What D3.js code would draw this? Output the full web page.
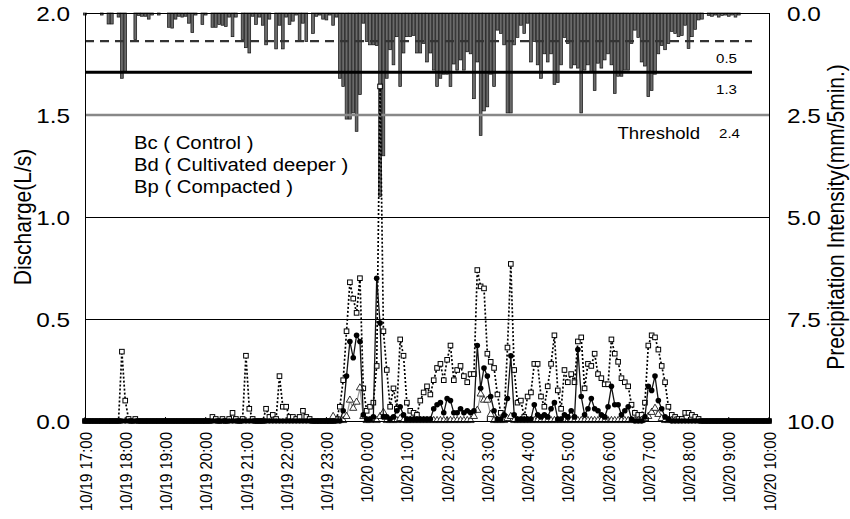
<!DOCTYPE html>
<html><head><meta charset="utf-8">
<script src="https://cdn.jsdelivr.net/npm/d3@7"></script>
<style>
body{margin:0;background:#fff}
text{font-family:"Liberation Sans",Arial,Helvetica,sans-serif;fill:#000}
</style>
</head><body>
<svg id="chart" width="850" height="519"></svg>
<script>
// ---------- data (5-minute steps from 10/19 17:00 to 10/20 10:00) ----------
const timeLabels = ["10/19 17:00","10/19 18:00","10/19 19:00","10/19 20:00","10/19 21:00","10/19 22:00","10/19 23:00","10/20 0:00","10/20 1:00","10/20 2:00","10/20 3:00","10/20 4:00","10/20 5:00","10/20 6:00","10/20 7:00","10/20 8:00","10/20 9:00","10/20 10:00"];
const leftTicks = [0, 0.5, 1.0, 1.5, 2.0];
const rightTicks = [0, 2.5, 5.0, 7.5, 10.0];
const legendLabels = ["Bc ( Control )", "Bd ( Cultivated deeper )", "Bp ( Compacted )"];
const thresholdLabels = ["0.5", "1.3", "2.4"];
const thresholdLevels = [0.69, 1.45, 2.5]; // mm/5min on the right axis

// precipitation intensity (mm/5min)
const precip = [
0.05,0,0,0,0,0.05,0,0.27,0.27,0,0.10,1.60,
1.45,0,0,0.65,0.06,0.08,0.08,0.15,0.05,0,0.05,0,
0,0.35,0.37,0.15,0.08,0.10,0.08,0.25,0.48,0.05,0,0.28,
0.05,0,0.35,0.35,0.28,0.30,0.33,0.10,0.58,0.10,0,0.65,
0.85,0.98,0.08,0.28,0.10,0.30,0.78,0.15,0,0.88,0.30,0.88,
0.10,0.28,0.20,0.05,0.70,0.25,0.70,0,0.50,0.08,0.05,0.15,
0.17,0.05,0.30,0.10,1.60,1.80,2.60,2.60,2.45,2.90,2.00,0.25,
0.70,0.78,0.78,0.80,4.50,3.50,1.60,0.90,1.27,0.58,1.80,0.98,
0.58,0.58,0.55,0.98,0.98,0.75,1.20,0.98,1.40,1.80,1.60,1.50,
1.50,1.80,1.25,1.40,1.15,1.40,0.95,1.00,2.10,1.20,3.00,2.40,
2.30,1.50,1.80,0.42,0.50,0.78,2.45,2.45,0.78,0.60,0.30,0.50,
0.25,1.20,0.70,1.27,1.60,1.00,1.20,1.00,1.75,1.70,1.27,0.60,
0.75,1.35,1.27,1.35,2.45,1.40,1.27,1.45,1.90,1.23,1.35,1.15,
1.00,1.27,1.97,1.55,1.55,1.40,1.40,0.75,0.42,0.60,1.20,1.30,
2.05,1.90,1.50,1.00,0.80,0.90,0.75,0.45,0.50,0.58,0.55,0.30,
0.87,0.58,0.40,0.17,0.15,0,0.06,0.08,0.05,0.10,0.06,0.05,
0.08,0.05,0.10,0.05,0,0,0,0,0,0,0,0,
0];

// discharge (L/s) – squares, dotted line
const dischargeSquares = [
0,0,0,0,0,0,0,0,0,0,0,0.34,
0.10,0.01,0,0.01,0,0,0,0,0,0,0,0,
0,0,0,0,0,0,0,0,0,0,0,0,
0,0,0.02,0.01,0,0.01,0,0.01,0.04,0.01,0,0.01,
0.32,0.06,0.01,0,0,0,0.06,0.02,0.03,0.01,0.22,0.07,
0.07,0.02,0.02,0.01,0.02,0.05,0.02,0.01,0,0,0,0,
0,0,0,0.01,0.07,0.20,0.44,0.68,0.60,0.53,0.70,0.16,
0.05,0.07,0.09,0.27,1.64,0.44,0.25,0.07,0.16,0.06,0.40,0.32,
0.09,0.05,0.04,0.03,0.10,0.14,0.17,0.13,0.20,0.26,0.28,0.20,
0.30,0.37,0.20,0.25,0.27,0.22,0.19,0.23,0.23,0.74,0.66,0.65,
0.33,0.29,0.26,0.13,0.04,0.02,0.36,0.77,0.25,0.09,0.10,0.02,
0.12,0.14,0.28,0.28,0.12,0.07,0.17,0.28,0.42,0.15,0.06,0.25,
0.19,0.23,0.19,0.39,0.41,0.16,0.28,0.27,0.33,0.23,0.21,0.18,
0.18,0.40,0.33,0.29,0.21,0.19,0.17,0.08,0.04,0.03,0.03,0.09,
0.37,0.42,0.41,0.35,0.27,0.19,0.07,0.03,0.02,0.01,0.01,0.04,
0.04,0.03,0.02,0.01,0,0,0,0,0,0,0,0,
0,0,0,0,0,0,0,0,0,0,0,0,
0];

// discharge (L/s) – filled circles, solid line
const dischargeCircles = [
0,0,0,0,0,0,0,0,0,0,0,0,
0,0,0,0,0,0,0,0,0,0,0,0,
0,0,0,0,0,0,0,0,0,0,0,0,
0,0,0,0,0,0,0,0,0,0,0,0,
0,0,0,0,0,0,0,0,0,0,0,0,
0,0,0,0,0,0,0,0,0,0,0,0,
0,0,0,0,0,0.05,0.22,0.39,0.31,0.42,0.39,0.03,
0.01,0.01,0.02,0.70,0.48,0.02,0.02,0.01,0.02,0.05,0.07,0.03,
0.01,0.01,0.01,0.01,0.01,0.01,0.01,0.01,0.06,0.08,0.09,0.04,
0.11,0.10,0.04,0.04,0.06,0.04,0.05,0.04,0.05,0.37,0.16,0.26,
0.22,0.12,0.05,0.01,0.01,0.03,0.11,0.32,0.03,0.01,0.01,0.01,
0.01,0.01,0.08,0.03,0.02,0.03,0.02,0.06,0.09,0.01,0.01,0.03,
0.02,0.05,0.02,0.35,0.12,0.03,0.06,0.11,0.06,0.05,0.03,0.02,
0.07,0.17,0.08,0.08,0.03,0.05,0.07,0.01,0,0,0,0.02,
0.17,0.15,0.22,0.10,0.06,0.02,0.01,0,0,0,0,0,
0,0,0,0,0,0,0,0,0,0,0,0,
0,0,0,0,0,0,0,0,0,0,0,0,
0];

// discharge (L/s) – open triangles, grey line (recorded only during the storm)
const dischargeTriangles = [
null,null,null,null,null,null,null,null,null,null,null,null,
null,null,null,null,null,null,null,null,null,null,null,null,
null,null,null,null,null,null,null,null,null,null,null,null,
null,null,null,null,null,null,null,null,null,null,null,null,
null,null,null,null,null,null,null,null,null,null,null,null,
null,null,null,null,null,null,null,null,null,null,null,null,
null,null,0.02,0,0,0,0.02,0.10,0.06,0.09,0.16,0.02,
0,0,0.01,0,0.02,0.04,0,0,0,0,0.01,0,
0,0,0,0,0,0,0,0,0,0,0,0,
0,0,0,0,0,0,0,0,0.02,0.05,0.13,0.10,
0.10,0.03,0,0,0,0,0.01,0.02,0,0,0,0,
0,0,0,0,0,0,0,0,0,0,0,0,
0,0,0,0,0,0,0,0,0,0,0,0,
0,0,0,0,0,0,0,0,0,0,0,0.01,
0.02,0.04,0.06,0.03,0.01,0,0,0,0,null,null,null,
null,null,null,null,null,null,null,null,null,null,null,null,
null,null,null,null,null,null,null,null,null,null,null,null,
null];

// ---------- layout ----------
const L = 85, R = 769, T = 13, B = 421;
const SX = 1.16; // horizontal stretch of the original lettering
const svg = d3.select("#chart");
const nSteps = precip.length - 1;
const x = d3.scaleLinear().domain([0, nSteps]).range([L, R]);
const y = d3.scaleLinear().domain([0, 2]).range([B, T]);
const yP = d3.scaleLinear().domain([0, 10]).range([T, B]);
const step = x(1) - x(0);

function htext(g, px, py, str, size, anchor) {
  return g.append("text")
    .attr("transform", `translate(${px},${py}) scale(${SX},1)`)
    .attr("text-anchor", anchor || "start")
    .attr("dominant-baseline", "central")
    .style("font-size", size + "px").text(str);
}

// precipitation bars hanging from the top
svg.append("g").selectAll("rect")
  .data(precip.map((v, i) => ({i, v})).filter(d => d.v > 0))
  .join("rect")
  .attr("x", d => x(d.i) - step / 2 + 0.3)
  .attr("y", T)
  .attr("width", step - 0.6)
  .attr("height", d => yP(d.v) - T)
  .attr("fill", "#6a6a6a")
  .attr("stroke", "#111")
  .attr("stroke-width", 0.7);

// gridlines
const grid = svg.append("g").attr("shape-rendering", "crispEdges");
[0.5, 1.0].forEach(v => grid.append("line")
  .attr("x1", L).attr("x2", R).attr("y1", y(v) + 0.5).attr("y2", y(v) + 0.5)
  .attr("stroke", "#000").attr("stroke-width", 1));

// threshold lines
const th = svg.append("g");
th.append("line").attr("x1", L).attr("x2", 752)
  .attr("y1", yP(thresholdLevels[0])).attr("y2", yP(thresholdLevels[0]))
  .attr("stroke", "#333").attr("stroke-width", 2.2).attr("stroke-dasharray", "9,6");
th.append("line").attr("x1", L).attr("x2", 752)
  .attr("y1", yP(thresholdLevels[1])).attr("y2", yP(thresholdLevels[1]))
  .attr("stroke", "#000").attr("stroke-width", 3);
th.append("line").attr("x1", L).attr("x2", R)
  .attr("y1", yP(thresholdLevels[2])).attr("y2", yP(thresholdLevels[2]))
  .attr("stroke", "#888").attr("stroke-width", 2.4);

htext(th, 737, yP(thresholdLevels[0]) + 17, thresholdLabels[0], 13, "end");
htext(th, 737, yP(thresholdLevels[1]) + 17, thresholdLabels[1], 13, "end");
htext(th, 740, yP(thresholdLevels[2]) + 18, thresholdLabels[2], 13, "end");
htext(th, 700, yP(thresholdLevels[2]) + 18, "Threshold", 16, "end");

// legend text
const lg = svg.append("g");
legendLabels.forEach((t, i) => htext(lg, 134, 143 + i * 22, t, 17.5, "start"));

// series
const lineGen = arr => d3.line()
  .defined(d => d != null)
  .x((d, i) => x(i)).y(d => y(d))(arr);
const pts = arr => arr.map((v, i) => ({i, v})).filter(d => d.v != null);

// squares (dotted)
svg.append("path").attr("d", lineGen(dischargeSquares))
  .attr("fill", "none").attr("stroke", "#000").attr("stroke-width", 1.7)
  .attr("stroke-dasharray", "2,2");
svg.append("g").selectAll("rect").data(pts(dischargeSquares)).join("rect")
  .attr("x", d => x(d.i) - 2.3).attr("y", d => y(d.v) - 2.3)
  .attr("width", 4.6).attr("height", 4.6)
  .attr("fill", "#fff").attr("stroke", "#000").attr("stroke-width", 1);

// triangles
svg.append("path").attr("d", lineGen(dischargeTriangles))
  .attr("fill", "none").attr("stroke", "#999").attr("stroke-width", 1.2);
const tri = d3.symbol().type(d3.symbolTriangle).size(22);
svg.append("g").selectAll("path").data(pts(dischargeTriangles)).join("path")
  .attr("d", tri).attr("transform", d => `translate(${x(d.i)},${y(d.v) - 0.5})`)
  .attr("fill", "#fff").attr("stroke", "#000").attr("stroke-width", 0.8);

// circles
svg.append("path").attr("d", lineGen(dischargeCircles))
  .attr("fill", "none").attr("stroke", "#111").attr("stroke-width", 1.3);
svg.append("g").selectAll("circle").data(pts(dischargeCircles)).join("circle")
  .attr("cx", d => x(d.i)).attr("cy", d => y(d.v)).attr("r", 2.8)
  .attr("fill", "#000");

// frame
svg.append("rect").attr("x", L + 0.5).attr("y", T + 0.5).attr("width", R - L).attr("height", B - T)
  .attr("fill", "none").attr("stroke", "#000").attr("stroke-width", 1)
  .attr("shape-rendering", "crispEdges");

// x axis
const hourIdx = d3.range(0, nSteps + 1, 12);
const xAxis = d3.axisBottom(x).tickValues(hourIdx)
  .tickFormat((d, i) => timeLabels[i]).tickSize(0).tickPadding(0);
const gx = svg.append("g").attr("transform", `translate(0,${B})`).call(xAxis);
gx.select(".domain").remove();
gx.selectAll("text")
  .attr("transform", `translate(0,11) rotate(-90) scale(1,${SX})`)
  .attr("x", 0).attr("y", 0).attr("dy", "0.35em")
  .attr("text-anchor", "end")
  .style("font-size", "15px").style("font-family", "'Liberation Sans',Arial,sans-serif");
svg.append("g").selectAll("line").data(hourIdx).join("line")
  .attr("x1", d => x(d)).attr("x2", d => x(d)).attr("y1", B).attr("y2", B - 4)
  .attr("stroke", "#000");

// left axis
const yAxis = d3.axisLeft(y).tickValues(leftTicks).tickFormat(d3.format(".1f"))
  .tickSize(0).tickPadding(0);
const gy = svg.append("g").attr("transform", `translate(${L},0)`).call(yAxis);
gy.select(".domain").remove();
gy.selectAll("text")
  .attr("x", 0).attr("dy", null).attr("dominant-baseline", "central")
  .attr("transform", `translate(-15,0) scale(${SX},1)`)
  .style("font-size", "21px").style("font-family", "'Liberation Sans',Arial,sans-serif");

// right axis
const yAxisR = d3.axisRight(yP).tickValues(rightTicks).tickFormat(d3.format(".1f"))
  .tickSize(0).tickPadding(0);
const gyr = svg.append("g").attr("transform", `translate(${R},0)`).call(yAxisR);
gyr.select(".domain").remove();
gyr.selectAll("text")
  .attr("x", 0).attr("dy", null).attr("dominant-baseline", "central")
  .attr("transform", `translate(18,0) scale(${SX},1)`)
  .style("font-size", "21px").style("font-family", "'Liberation Sans',Arial,sans-serif");

// axis titles
svg.append("text").attr("transform", `translate(22,${(T + B) / 2}) rotate(-90) scale(1,${SX})`)
  .attr("text-anchor", "middle").attr("dominant-baseline", "central")
  .style("font-size", "21px").text("Discharge(L/s)");
svg.append("text").attr("transform", `translate(835,${(T + B) / 2}) rotate(-90) scale(1,${SX})`)
  .attr("text-anchor", "middle").attr("dominant-baseline", "central")
  .style("font-size", "21px").text("Precipitation Intensity(mm/5min.)");
</script>
</body></html>
